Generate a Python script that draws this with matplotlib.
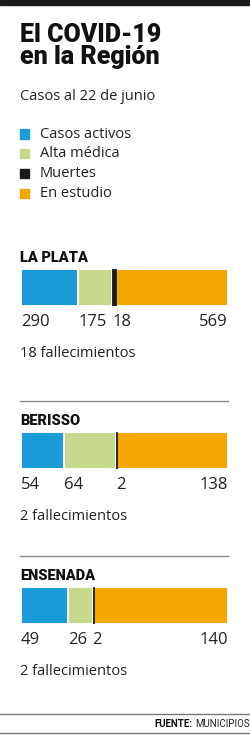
import matplotlib
matplotlib.use("Agg")
import matplotlib.pyplot as plt
import numpy as np

W, H = 251, 735

categories = ["Casos activos", "Alta médica", "Muertes", "En estudio"]
colors = ["#1b9bd7", "#c6d98c", "#1a1a1a", "#f4a700"]
towns = ["LA PLATA", "BERISSO", "ENSENADA"]
la_plata = [290, 175, 18, 569]
berisso = [54, 64, 2, 138]
ensenada = [49, 26, 2, 140]
deaths_notes = ["18 fallecimientos", "2 fallecimientos", "2 fallecimientos"]

plt.rcParams["font.family"] = ["Roboto", "DejaVu Sans"]
REG = ["Open Sans", "DejaVu Sans"]

fig = plt.figure(figsize=(W / 100, H / 100), dpi=100)


def fy(y):
    return 1 - y / H


def ftxt(x, y, s, **kw):
    return fig.text(x / W, fy(y), s, **kw)


# top band
fig.add_artist(plt.Rectangle((0, fy(5)), 1, 5 / H, color="#1a1a1a", transform=fig.transFigure))

ftxt(20, 42, "El COVID-19", fontsize=18, fontweight=900, color="#111111", va="baseline")
ftxt(20, 64, "en la Región", fontsize=18, fontweight=900, color="#111111", va="baseline")
ftxt(20, 100, "Casos al 22 de junio", fontsize=10.5, family=REG, color="#222222", va="baseline")

# legend
for i, (lab, c) in enumerate(zip(categories, colors)):
    yc = 134 + i * 19.7
    fig.add_artist(plt.Rectangle((20 / W, fy(yc + 4.5)), 9 / W, 9 / H, color=c,
                                 transform=fig.transFigure))
    ftxt(40, yc, lab, fontsize=10.5, family=REG, color="#222222", va="center")

bar_tops = [269, 432, 587]
for town, vals, note, top in zip(towns, [la_plata, berisso, ensenada], deaths_notes, bar_tops):
    ftxt(20, top - 7, town, fontsize=10.5, fontweight=900, color="#111111", va="baseline")
    ax = fig.add_axes([21 / W, fy(top + 37), 207 / W, 37 / H])
    total = sum(vals)
    lefts = np.concatenate([[0], np.cumsum(vals)[:-1]])
    for v, l, c in zip(vals, lefts, colors):
        if c == "#1a1a1a":
            ax.barh(0, v, left=l, height=1, color=c, edgecolor=c, lw=0.6, zorder=3)
        else:
            ax.barh(0, v, left=l, height=1, color=c, edgecolor="white", lw=1.4, zorder=2)
    ax.set_xlim(0, total)
    ax.set_ylim(-0.5, 0.5)
    ax.axis("off")
    for j, (v, l) in enumerate(zip(vals, lefts)):
        last = j == len(vals) - 1
        ax.text(total if last else l, -0.72, str(v), ha="right" if last else "left", va="top",
                fontsize=12, family=REG, color="#222222", clip_on=False)
    ftxt(20, top + 88, note, fontsize=10.5, family=REG, color="#222222", va="baseline")

# separators
for ys in [401, 556]:
    fig.add_artist(plt.Line2D([20 / W, 228 / W], [fy(ys), fy(ys)], color="#8a8a8a", lw=1,
                              transform=fig.transFigure))
for ys in [714, 733]:
    fig.add_artist(plt.Line2D([0, 1], [fy(ys), fy(ys)], color="#777777", lw=1,
                              transform=fig.transFigure))

src = ftxt(250, 724, "MUNICIPIOS", fontsize=7, color="#222222", ha="right", va="center")
r = fig.canvas.get_renderer()
bb = src.get_window_extent(renderer=r)
ftxt(bb.x0 - 3, 724, "FUENTE:", fontsize=7, fontweight="bold", color="#111111",
     ha="right", va="center")

fig.savefig("out.png", dpi=100)
